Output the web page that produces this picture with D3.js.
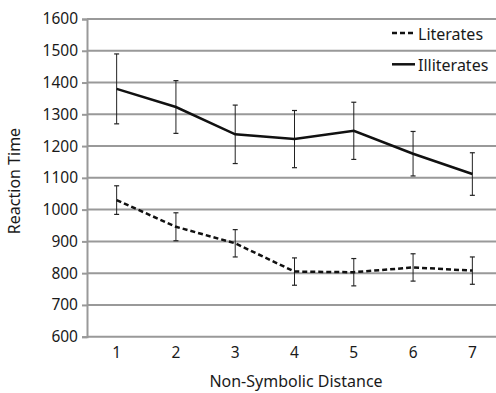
<!DOCTYPE html>
<html>
<head>
<meta charset="utf-8">
<script src="https://cdn.jsdelivr.net/npm/d3@7"></script>
<style>
  body { margin: 0; background: #fff; }
  text { font-family: "Noto Sans", sans-serif; fill: #1a1a1a; }
</style>
</head>
<body>
<svg id="chart" width="496" height="393"></svg>
<script>
// data
const distances = [1, 2, 3, 4, 5, 6, 7];
const literates = [1030, 946, 894, 805, 803, 818, 808];
const literatesErr = [45, 44, 43, 43, 43, 43, 43];
const illiterates = [1380, 1323, 1237, 1222, 1248, 1176, 1112];
const illiteratesErr = [110, 83, 92, 90, 90, 70, 67];
const yTicks = [600, 700, 800, 900, 1000, 1100, 1200, 1300, 1400, 1500, 1600];

const svg = d3.select("#chart");
const plotLeft = 87, plotRight = 502, plotTop = 19, plotBottom = 336.7;

let xScale = d3.scaleBand()
  .domain(distances)
  .range([plotLeft, plotRight]);
let xc = d => xScale(d) + xScale.bandwidth() / 2;

let yScale = d3.scaleLinear()
  .domain([600, 1600])
  .range([plotBottom, plotTop]);

// gridlines
svg.append("g")
  .selectAll("line")
  .data(yTicks)
  .enter()
  .append("line")
  .attr("x1", plotLeft)
  .attr("x2", 496)
  .attr("y1", d => yScale(d))
  .attr("y2", d => yScale(d))
  .attr("stroke", "#999")
  .attr("stroke-width", 2);

// y axis
let yAxis = d3.axisLeft(yScale)
  .tickValues(yTicks)
  .tickFormat(d3.format("d"))
  .tickSize(5)
  .tickPadding(4);
let yg = svg.append("g")
  .attr("transform", `translate(${plotLeft},0)`)
  .call(yAxis);
yg.select(".domain").attr("stroke", "#999").attr("stroke-width", 2);
yg.selectAll(".tick line").attr("stroke", "#999").attr("stroke-width", 2);
yg.selectAll(".tick text").attr("font-size", 15.5).attr("font-family", "Noto Sans").attr("fill", "#1a1a1a");

// x axis labels only
let xAxis = d3.axisBottom(xScale)
  .tickSize(0)
  .tickPadding(10);
let xg = svg.append("g")
  .attr("transform", `translate(0,${plotBottom})`)
  .call(xAxis);
xg.select(".domain").remove();
xg.selectAll(".tick text").attr("font-size", 15.5).attr("font-family", "Noto Sans").attr("fill", "#1a1a1a");

// series
const series = [
  { name: "Literates", vals: literates, err: literatesErr, dash: "5,3" },
  { name: "Illiterates", vals: illiterates, err: illiteratesErr, dash: null }
];

let line = d3.line()
  .x((d, i) => xc(distances[i]))
  .y(d => yScale(d));

series.forEach(s => {
  let g = svg.append("g");
  // error bars
  s.vals.forEach((v, i) => {
    let x = xc(distances[i]);
    let y1 = yScale(v + s.err[i]), y2 = yScale(v - s.err[i]);
    g.append("line").attr("x1", x).attr("x2", x).attr("y1", y1).attr("y2", y2)
      .attr("stroke", "#222").attr("stroke-width", 1);
    [y1, y2].forEach(y => {
      g.append("line").attr("x1", x - 2.5).attr("x2", x + 2.5).attr("y1", y).attr("y2", y)
        .attr("stroke", "#222").attr("stroke-width", 1.2);
    });
  });
  g.append("path")
    .attr("d", line(s.vals))
    .attr("fill", "none")
    .attr("stroke", "#111")
    .attr("stroke-width", 2.5)
    .attr("stroke-dasharray", s.dash);
});

// legend
const legendY = [33, 64.3];
series.forEach((s, i) => {
  svg.append("line")
    .attr("x1", 392).attr("x2", 415)
    .attr("y1", legendY[i]).attr("y2", legendY[i])
    .attr("stroke", "#111").attr("stroke-width", 2.5)
    .attr("stroke-dasharray", s.dash);
  svg.append("text")
    .attr("x", 418).attr("y", legendY[i] + 6.5)
    .attr("font-size", 16)
    .text(s.name);
});

// axis titles
svg.append("text")
  .attr("transform", "translate(20,181) rotate(-90)")
  .attr("text-anchor", "middle")
  .attr("font-size", 16)
  .text("Reaction Time");

svg.append("text")
  .attr("x", 296).attr("y", 387)
  .attr("text-anchor", "middle")
  .attr("font-size", 16)
  .text("Non-Symbolic Distance");
</script>
</body>
</html>
